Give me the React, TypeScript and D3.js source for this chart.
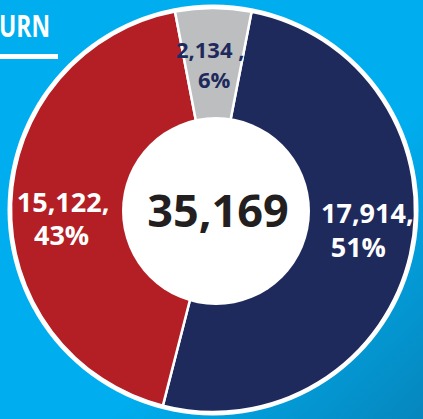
import React from 'react';
import * as d3 from 'd3';

const categories = ['Navy', 'Red', 'Gray'];
const values = [17914, 15122, 2134];
const valueLabels = ['17,914,', '15,122,', '2,134 ,'];
const percentLabels = ['51%', '43%', '6%'];
const totalLabel = '35,169';
const titleText = 'URN';

const sliceColors = ['#1f2a5c', '#b31f24', '#bcbec0'];
const labelColors = ['#ffffff', '#ffffff', '#1f2a5c'];
const labelFont = [27, 27, 22];
const labelLineGap = [34, 33, 30];
const labelNudge: [number, number][] = [[8, -20], [0, 7], [-3, -2]];
const line2Dx = [-9, -1.5, 4];

const W = 423;
const H = 419;
const cx = 213;
const cy = 210;
const R = 202;
const FONT = "'Open Sans', 'DejaVu Sans', sans-serif";

export default function App() {
  const start = (11 * Math.PI) / 180;
  const pie = d3
    .pie<number>()
    .sort(null)
    .value((d) => d)
    .startAngle(start)
    .endAngle(start + 2 * Math.PI);
  const arcs = pie(values);
  const arc = d3.arc<d3.PieArcDatum<number>>().innerRadius(0).outerRadius(R);
  const labelArc = d3.arc<d3.PieArcDatum<number>>().innerRadius(150).outerRadius(150);

  return (
    <svg
      width={W}
      height={H}
      viewBox={`0 0 ${W} ${H}`}
      style={{ position: 'fixed', left: 0, top: 0, display: 'block' }}
    >
      <defs>
        <linearGradient id="bg" x1="0" y1="0" x2="1" y2="1">
          <stop offset="0" stopColor="#00aeef" />
          <stop offset="0.62" stopColor="#00aeef" />
          <stop offset="1" stopColor="#0686bd" />
        </linearGradient>
      </defs>
      <rect x={0} y={0} width={W} height={H} fill="url(#bg)" />

      <text
        x={-1}
        y={37}
        fill="#ffffff"
        fontFamily={FONT}
        fontWeight={700}
        fontSize={30}
        textLength={51}
        lengthAdjust="spacingAndGlyphs"
      >
        {titleText}
      </text>
      <rect x={0} y={54} width={58} height={5} fill="#ffffff" />

      <g transform={`translate(${cx},${cy})`}>
        <circle r={R + 3.5} fill="#ffffff" />
        {arcs.map((a, i) => (
          <path
            key={categories[i]}
            d={arc(a) || ''}
            fill={sliceColors[i]}
            stroke="#ffffff"
            strokeWidth={2.5}
            strokeLinejoin="round"
          />
        ))}
      </g>
      <circle cx={cx + 3} cy={cy + 1} r={94} fill="#ffffff" />
      <text
        x={cx + 5}
        y={227}
        textAnchor="middle"
        fill="#231f20"
        fontFamily={FONT}
        fontWeight={700}
        fontSize={45}
      >
        {totalLabel}
      </text>

      <g transform={`translate(${cx},${cy})`}>
        {arcs.map((a, i) => {
          const [lx, ly] = labelArc.centroid(a);
          const x = lx + labelNudge[i][0];
          const y = ly + labelNudge[i][1];
          return (
            <text
              key={categories[i]}
              textAnchor="middle"
              fill={labelColors[i]}
              fontFamily={FONT}
              fontWeight={700}
              fontSize={labelFont[i]}
            >
              <tspan x={x} y={y}>
                {valueLabels[i]}
              </tspan>
              <tspan x={x + line2Dx[i]} y={y + labelLineGap[i]}>
                {percentLabels[i]}
              </tspan>
            </text>
          );
        })}
      </g>
    </svg>
  );
}
